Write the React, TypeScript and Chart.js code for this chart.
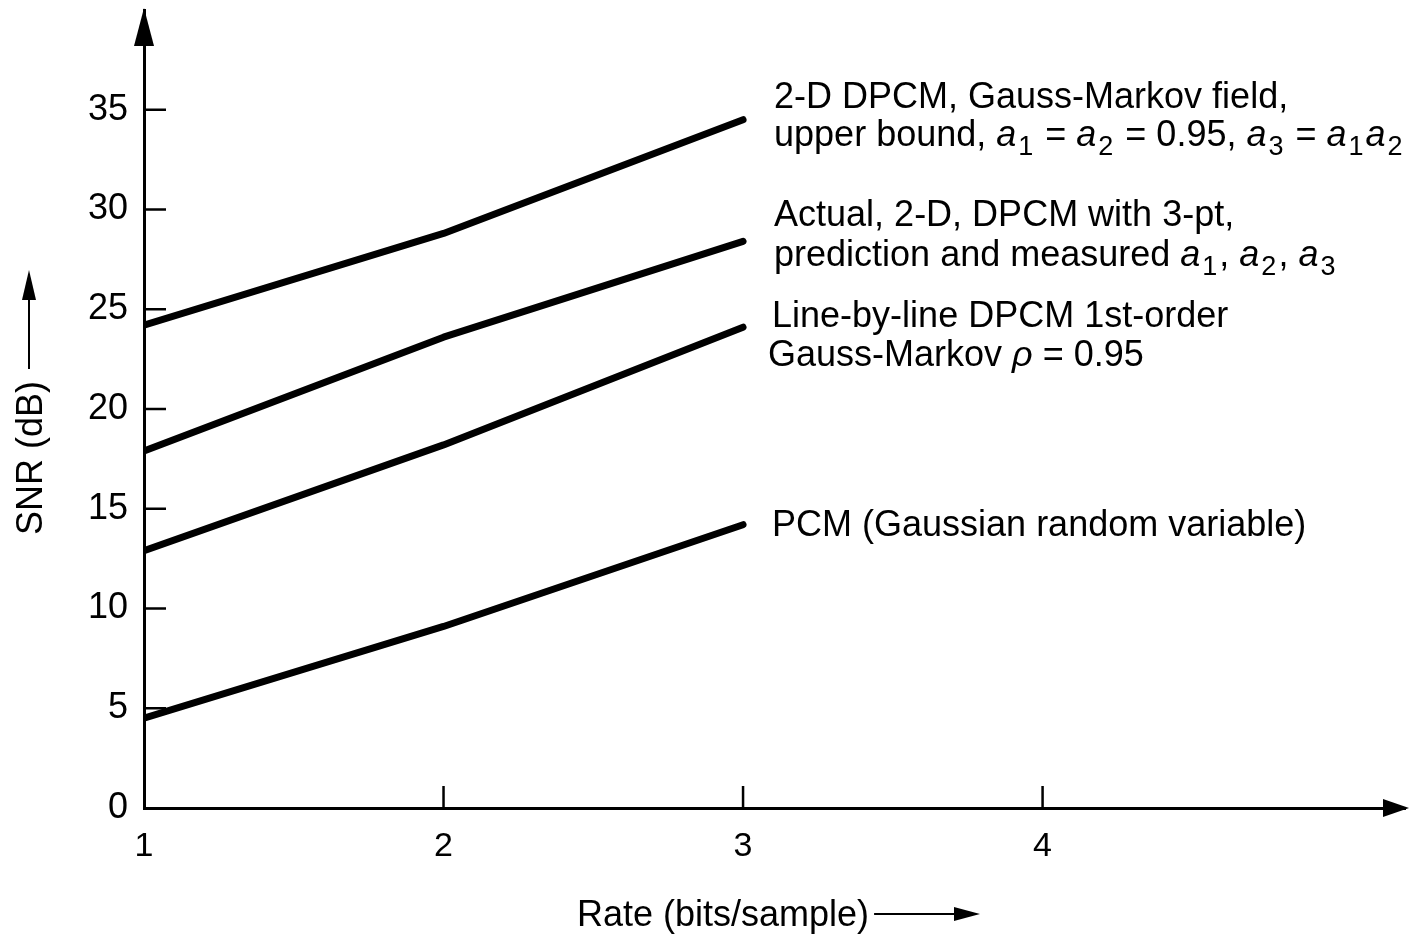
import React, { useEffect, useRef } from 'react';
import { Chart, registerables } from 'chart.js';

Chart.register(...registerables);

// ---- data ----
const rates = [1, 2, 3];
const snrUpperBound2D = [24.2, 28.8, 34.5];
const snrActual2D = [17.9, 23.6, 28.4];
const snrLineByLine = [12.9, 18.2, 24.1];
const snrPCM = [4.5, 9.1, 14.2];
const yTickValues = [0, 5, 10, 15, 20, 25, 30, 35];
const xTickValues = [1, 2, 3, 4];
const yAxisTitle = 'SNR (dB)';
const xAxisTitle = 'Rate (bits/sample)';

type Seg = { t: string; s?: 'i' | 'sub' };
const labelUpperBound: Seg[][] = [
  [{ t: '2-D DPCM, Gauss-Markov field,' }],
  [
    { t: 'upper bound, ' }, { t: 'a', s: 'i' }, { t: '1', s: 'sub' }, { t: ' = ' },
    { t: 'a', s: 'i' }, { t: '2', s: 'sub' }, { t: ' = 0.95, ' },
    { t: 'a', s: 'i' }, { t: '3', s: 'sub' }, { t: ' = ' },
    { t: 'a', s: 'i' }, { t: '1', s: 'sub' }, { t: 'a', s: 'i' }, { t: '2', s: 'sub' },
  ],
];
const labelActual: Seg[][] = [
  [{ t: 'Actual, 2-D, DPCM with 3-pt,' }],
  [
    { t: 'prediction and measured ' }, { t: 'a', s: 'i' }, { t: '1', s: 'sub' }, { t: ', ' },
    { t: 'a', s: 'i' }, { t: '2', s: 'sub' }, { t: ', ' }, { t: 'a', s: 'i' }, { t: '3', s: 'sub' },
  ],
];
const labelLineByLine: Seg[][] = [
  [{ t: 'Line-by-line DPCM 1st-order' }],
  [{ t: 'Gauss-Markov ' }, { t: 'ρ', s: 'i' }, { t: ' = 0.95' }],
];
const labelPCM: Seg[][] = [[{ t: 'PCM (Gaussian random variable)' }]];

const seriesList = [
  { values: snrUpperBound2D, label: labelUpperBound },
  { values: snrActual2D, label: labelActual },
  { values: snrLineByLine, label: labelLineByLine },
  { values: snrPCM, label: labelPCM },
];

// ---- layout / style (not data) ----
const FONT = '"Liberation Sans", Arial, Helvetica, sans-serif';
const LABEL_FS = 36;
const labelLayout = [
  { dx: 31, dy: -12, gap: 38, dx2: 0 },
  { dx: 31, dy: -15, gap: 40, dx2: 0 },
  { dx: 29, dy: 0, gap: 39, dx2: -4 },
  { dx: 29, dy: 11, gap: 0, dx2: 0 },
];

function drawRich(ctx: CanvasRenderingContext2D, segs: Seg[], x: number, y: number, fs: number) {
  let cx = x;
  for (const seg of segs) {
    let font = `${fs}px ${FONT}`;
    let yy = y;
    if (seg.s === 'i') font = `italic ${fs}px ${FONT}`;
    if (seg.s === 'sub') { font = `${Math.round(fs * 0.75)}px ${FONT}`; yy = y + 9; cx += 2; }
    ctx.font = font;
    ctx.fillText(seg.t, cx, yy);
    cx += ctx.measureText(seg.t).width;
    if (seg.s === 'sub') cx += 2;
  }
}

function arrowHead(ctx: CanvasRenderingContext2D, tipX: number, tipY: number, dirX: number, dirY: number, len: number, half: number) {
  const bx = tipX - dirX * len;
  const by = tipY - dirY * len;
  const px = -dirY, py = dirX;
  ctx.beginPath();
  ctx.moveTo(tipX, tipY);
  ctx.lineTo(bx + px * half, by + py * half);
  ctx.lineTo(bx - px * half, by - py * half);
  ctx.closePath();
  ctx.fill();
}

const decorPlugin = {
  id: 'decor',
  afterDraw(chart: any) {
    const ctx: CanvasRenderingContext2D = chart.ctx;
    const xs = chart.scales.x;
    const ys = chart.scales.y;
    const area = chart.chartArea;
    ctx.save();
    ctx.strokeStyle = '#000';
    ctx.fillStyle = '#000';

    // inward tick marks
    ctx.lineWidth = 2.5;
    ctx.lineCap = 'butt';
    for (const v of yTickValues) {
      if (v === 0) continue;
      const py = ys.getPixelForValue(v);
      ctx.beginPath();
      ctx.moveTo(area.left, py);
      ctx.lineTo(area.left + 22, py);
      ctx.stroke();
    }
    for (const v of xTickValues) {
      if (v === 1) continue;
      const px = xs.getPixelForValue(v);
      ctx.beginPath();
      ctx.moveTo(px, area.bottom);
      ctx.lineTo(px, area.bottom - 22);
      ctx.stroke();
    }

    // axis arrowheads
    arrowHead(ctx, area.left, area.top - 2, 0, -1, 38, 10);
    arrowHead(ctx, area.right + 4, area.bottom, 1, 0, 26, 9);

    // series labels
    ctx.textBaseline = 'alphabetic';
    ctx.textAlign = 'left';
    seriesList.forEach((s, i) => {
      const lay = labelLayout[i];
      const last = s.values.length - 1;
      const ex = xs.getPixelForValue(rates[last]);
      const ey = ys.getPixelForValue(s.values[last]);
      s.label.forEach((line, j) => {
        drawRich(ctx, line, ex + lay.dx + (j > 0 ? lay.dx2 : 0), ey + lay.dy + j * lay.gap, LABEL_FS);
      });
    });

    // y axis title (rotated) with arrow
    ctx.save();
    ctx.translate(42, 535);
    ctx.rotate(-Math.PI / 2);
    ctx.font = `36px ${FONT}`;
    ctx.fillText(yAxisTitle, 0, 0);
    const yw = ctx.measureText(yAxisTitle).width;
    ctx.restore();
    const yArrowX = 29;
    const yStart = 535 - yw - 12;
    ctx.lineWidth = 2;
    ctx.beginPath();
    ctx.moveTo(yArrowX, yStart);
    ctx.lineTo(yArrowX, 290);
    ctx.stroke();
    arrowHead(ctx, yArrowX, 270, 0, -1, 30, 7);

    // x axis title with arrow
    ctx.font = `36px ${FONT}`;
    ctx.fillText(xAxisTitle, 577, 926);
    const xw = ctx.measureText(xAxisTitle).width;
    const xa0 = 577 + xw + 5;
    ctx.beginPath();
    ctx.moveTo(xa0, 914);
    ctx.lineTo(960, 914);
    ctx.stroke();
    arrowHead(ctx, 980, 914, 1, 0, 26, 7);

    ctx.restore();
  },
};

export default function App() {
  const ref = useRef<HTMLCanvasElement | null>(null);
  useEffect(() => {
    document.body.style.margin = '0';
    document.body.style.background = '#fff';
    const canvas = ref.current!;
    const chart = new Chart(canvas, {
      type: 'line',
      data: {
        datasets: seriesList.map((s) => ({
          data: rates.map((r, i) => ({ x: r, y: s.values[i] })),
          borderColor: '#000',
          backgroundColor: '#000',
          borderWidth: 7,
          pointRadius: 0,
          borderCapStyle: 'round' as const,
          borderJoinStyle: 'round' as const,
          tension: 0,
          fill: false,
        })),
      },
      options: {
        animation: false,
        responsive: false,
        devicePixelRatio: 1,
        layout: { padding: { left: 0, top: 10, right: 7, bottom: 0 } },
        plugins: { legend: { display: false }, tooltip: { enabled: false } },
        scales: {
          x: {
            type: 'linear',
            min: 1,
            max: 5.21,
            afterBuildTicks: (s: any) => { s.ticks = xTickValues.map((v) => ({ value: v })); },
            afterFit: (s: any) => {
              s.height = 127;
              s.paddingLeft = 0; s.paddingRight = 0; s.paddingTop = 0; s.paddingBottom = 0;
            },
            ticks: {
              color: '#000',
              font: { size: 34, family: FONT },
              padding: 18,
              maxRotation: 0,
              autoSkip: false,
            },
            grid: { display: false, drawTicks: false },
            border: { display: true, color: '#000', width: 3 },
          },
          y: {
            type: 'linear',
            min: 0,
            max: 40,
            afterBuildTicks: (s: any) => { s.ticks = yTickValues.map((v) => ({ value: v })); },
            afterFit: (s: any) => {
              s.width = 144;
              s.paddingLeft = 0; s.paddingRight = 0; s.paddingTop = 0; s.paddingBottom = 0;
            },
            ticks: {
              color: '#000',
              font: { size: 36, family: FONT },
              padding: 16,
              autoSkip: false,
            },
            grid: { display: false, drawTicks: false },
            border: { display: true, color: '#000', width: 3 },
          },
        },
      },
      plugins: [decorPlugin],
    });
    return () => chart.destroy();
  }, []);
  return <canvas ref={ref} width={1412} height={935} style={{ display: 'block', width: 1412, height: 935 }} />;
}
